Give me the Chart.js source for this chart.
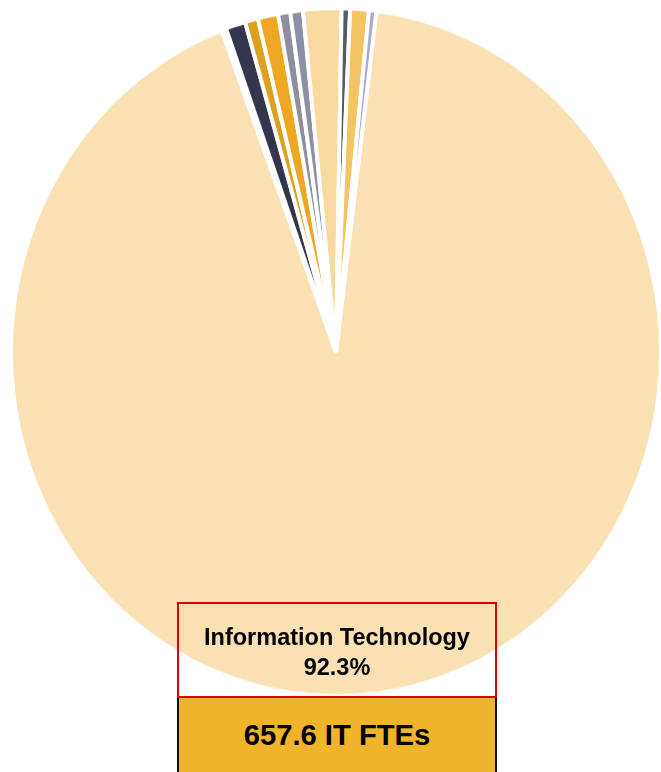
<!DOCTYPE html>
<html>
<head>
<meta charset="utf-8">
<script src="https://cdn.jsdelivr.net/npm/chart.js@4.4.1/dist/chart.umd.min.js"></script>
<style>
  html, body { margin: 0; padding: 0; background: #fff; }
  body { width: 661px; height: 772px; position: relative; overflow: hidden; font-family: "Liberation Sans", Arial, sans-serif; }
  #pie-wrap {
    position: absolute; left: 9px; top: 6px; width: 654px; height: 654px;
    transform: scaleY(1.0585); transform-origin: top left;
  }
  .share-box {
    position: absolute; left: 177px; top: 602px; width: 316px; height: 92px;
    border: 2px solid #e00000; text-align: center; font-weight: bold; font-size: 23.5px; color: #000;
  }
  .share-box div:first-child { margin-top: 18px; line-height: 30px; }
  .share-box div + div { line-height: 30px; }
  .total-box {
    position: absolute; left: 177px; top: 698px; width: 316px; height: 80px;
    background: #f0b42a; border-left: 2px solid #111; border-right: 2px solid #111;
    text-align: center; font-weight: bold; font-size: 29.2px; line-height: 74px; color: #000;
  }
</style>
</head>
<body>
<div id="pie-wrap"><canvas id="fte-pie"></canvas></div>
<div class="share-box"><div id="share-name"></div><div id="share-pct"></div></div>
<div class="total-box" id="total-fte"></div>

<script>
// FTEs by job family, IT first, then the small families clockwise
const families = ['Information Technology', 'Other', 'Family B', 'Family C', 'Family D', 'Family E',
  'Family F', 'Family G', 'Family H', 'Family I', 'Family J'];
const ftes = [657.6, 1.6, 7.0, 4.6, 7.2, 4.3, 4.5, 13.5, 3.0, 6.6, 2.6];
const sliceColors = ['#f9e1b3', '#ffffff', '#33364d', '#dca11e', '#efa622', '#8d8f9f',
  '#8c90a6', '#f8d9a0', '#535c66', '#f4c462', '#a7aacb'];

const totalFte = ftes.reduce((sum, v) => sum + v, 0);
const itShare = (ftes[0] / totalFte) * 100;

document.getElementById('share-name').textContent = families[0];
document.getElementById('share-pct').textContent = itShare.toFixed(1) + '%';
document.getElementById('total-fte').textContent = ftes[0].toFixed(1) + ' IT FTEs';

new Chart(document.getElementById('fte-pie'), {
  type: 'pie',
  data: {
    labels: families,
    datasets: [{
      data: ftes,
      backgroundColor: sliceColors,
      borderColor: '#ffffff',
      borderWidth: 4
    }]
  },
  options: {
    responsive: true,
    maintainAspectRatio: false,
    animation: false,
    rotation: 7.15,
    layout: { padding: 0 },
    plugins: {
      legend: { display: false },
      tooltip: { enabled: false }
    }
  }
});
</script>
</body>
</html>
